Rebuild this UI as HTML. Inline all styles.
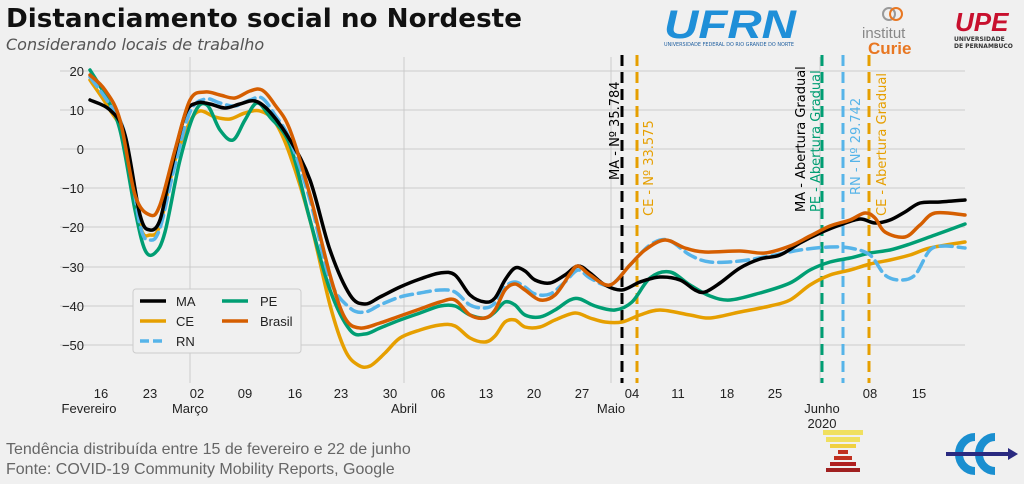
<!DOCTYPE html>
<html><head><meta charset="utf-8"><style>
body{margin:0;background:#f0f0f0;}
svg{display:block;font-family:"DejaVu Sans","Liberation Sans",sans-serif;}
</style></head><body>
<svg id="s" width="1024" height="484" viewBox="0 0 1024 484" xmlns="http://www.w3.org/2000/svg">
<rect width="1024" height="484" fill="#f0f0f0"/>
<text x="6" y="27" font-size="26" font-weight="bold" fill="#111" textLength="516" lengthAdjust="spacingAndGlyphs">Distanciamento social no Nordeste</text>
<text x="6" y="50" font-size="16" font-style="italic" fill="#555">Considerando locais de trabalho</text>
<text x="664" y="38" font-size="40" font-weight="bold" fill="#1f8fd8" font-family="Liberation Sans,sans-serif" font-style="italic" textLength="132" lengthAdjust="spacingAndGlyphs">UFRN</text>
<text x="664" y="46" font-size="5" fill="#1f5fa0" textLength="130" lengthAdjust="spacingAndGlyphs">UNIVERSIDADE FEDERAL DO RIO GRANDE DO NORTE</text>
<circle cx="889" cy="14" r="6" fill="none" stroke="#999" stroke-width="2"/><circle cx="896" cy="14" r="6" fill="none" stroke="#e87722" stroke-width="2"/>
<text x="862" y="38" font-size="15" fill="#888" font-family="Liberation Sans,sans-serif">institut</text>
<text x="868" y="54" font-size="17" font-weight="bold" fill="#e87722" font-family="Liberation Sans,sans-serif">Curie</text>
<text x="955" y="31" font-size="26" font-weight="bold" font-style="italic" fill="#c8102e" font-family="Liberation Sans,sans-serif">UPE</text>
<text x="954" y="41" font-size="6" font-weight="bold" fill="#333">UNIVERSIDADE</text>
<text x="954" y="48" font-size="6" font-weight="bold" fill="#333">DE PERNAMBUCO</text>
<g stroke="#cbcbcb" stroke-width="1">
<line x1="60" x2="965" y1="71" y2="71"/><line x1="60" x2="965" y1="110" y2="110"/><line x1="60" x2="965" y1="149" y2="149"/><line x1="60" x2="965" y1="188" y2="188"/><line x1="60" x2="965" y1="227" y2="227"/><line x1="60" x2="965" y1="267" y2="267"/><line x1="60" x2="965" y1="306" y2="306"/><line x1="60" x2="965" y1="345" y2="345"/>
<line x1="190" x2="190" y1="57" y2="383"/><line x1="404" x2="404" y1="57" y2="383"/><line x1="611" x2="611" y1="57" y2="383"/><line x1="820" x2="820" y1="57" y2="383"/>
</g>
<g font-size="13" fill="#222" text-anchor="end" font-family="Liberation Sans,sans-serif">
<text x="84" y="76">20</text><text x="84" y="115">10</text><text x="84" y="154">0</text><text x="84" y="193">−10</text><text x="84" y="232">−20</text><text x="84" y="272">−30</text><text x="84" y="311">−40</text><text x="84" y="350">−50</text>
</g>
<g font-size="13" fill="#222" text-anchor="middle" font-family="Liberation Sans,sans-serif">
<text x="101" y="398">16</text><text x="150" y="398">23</text><text x="197" y="398">02</text><text x="245" y="398">09</text><text x="295" y="398">16</text><text x="341" y="398">23</text><text x="390" y="398">30</text><text x="438" y="398">06</text><text x="486" y="398">13</text><text x="534" y="398">20</text><text x="582" y="398">27</text><text x="632" y="398">04</text><text x="678" y="398">11</text><text x="727" y="398">18</text><text x="775" y="398">25</text><text x="870" y="398">08</text><text x="919" y="398">15</text>
<text x="89" y="413">Fevereiro</text><text x="190" y="413">Março</text><text x="404" y="413">Abril</text><text x="611" y="413">Maio</text><text x="822" y="413">Junho</text><text x="822" y="428">2020</text>
</g>
<g stroke-width="3" stroke-dasharray="11,6" fill="none">
<line x1="622" x2="622" y1="55" y2="383" stroke="#000"/>
<line x1="637" x2="637" y1="55" y2="383" stroke="#E69F00"/>
<line x1="822" x2="822" y1="55" y2="383" stroke="#009E73"/>
<line x1="843" x2="843" y1="55" y2="383" stroke="#56B4E9"/>
<line x1="869" x2="869" y1="55" y2="383" stroke="#E69F00"/>
</g>
<g font-size="13" font-family="DejaVu Sans,sans-serif">
<text transform="translate(619,180) rotate(-90)" fill="#000">MA - Nº 35.784</text>
<text transform="translate(653,216) rotate(-90)" fill="#E69F00">CE - Nº 33.575</text>
<text transform="translate(805,212) rotate(-90)" fill="#000">MA - Abertura Gradual</text>
<text transform="translate(820,212) rotate(-90)" fill="#009E73">PE - Abertura Gradual</text>
<text transform="translate(860,195) rotate(-90)" fill="#56B4E9">RN - Nº 29.742</text>
<text transform="translate(886,216) rotate(-90)" fill="#E69F00">CE - Abertura Gradual</text>
</g>
<g fill="none" stroke-width="3.5" stroke-linejoin="round" stroke-linecap="round">
<polyline class="sm" stroke="#E69F00" points="90,80 110,110 125,140 140,225 150,235 160,225 175,160 190,122 200,111 215,117 230,119 245,113 260,111 275,122 290,155 310,220 330,305 345,350 358,365 370,366 385,353 400,338 420,330 440,325 455,326 470,338 485,342 495,336 505,322 515,320 525,327 540,327 555,320 575,313 590,318 605,322 622,322 640,315 660,310 690,315 710,318 740,312 770,306 790,300 810,285 830,275 850,270 870,264 890,260 910,255 930,248 965,242"/>
<polyline class="sm" stroke="#009E73" points="90,70 105,95 120,130 135,210 145,250 155,253 165,232 180,160 195,112 207,105 220,130 233,140 245,120 257,103 270,117 290,145 310,220 330,290 350,330 365,334 380,328 400,320 420,313 440,306 455,306 470,315 485,318 495,312 505,302 515,305 525,315 540,317 555,310 570,300 580,299 595,306 615,310 632,302 650,278 670,272 690,285 710,296 730,300 760,293 790,283 810,270 830,262 850,258 870,253 890,250 910,244 935,235 965,224"/>
<polyline class="sm" stroke="#56B4E9" stroke-dasharray="12,6" points="90,77 110,105 125,135 140,225 150,240 160,228 175,165 190,112 205,99 220,103 235,106 250,100 262,98 275,115 290,140 310,200 330,280 350,308 365,312 380,305 400,297 420,293 440,290 455,292 470,305 485,308 495,303 505,287 515,282 525,287 535,294 550,294 565,282 578,270 590,278 610,285 630,265 650,245 668,240 690,255 710,262 740,261 770,256 800,250 830,247 850,248 870,255 885,275 900,280 915,275 930,250 945,246 965,248"/>
<polyline class="sm" stroke="#000" points="90,100 110,110 125,135 140,215 150,230 160,220 170,175 185,115 197,103 210,104 225,108 240,104 255,101 270,112 290,140 310,180 330,250 350,295 365,304 380,297 400,287 420,279 440,273 455,275 470,295 485,302 495,298 505,280 515,268 525,271 535,280 550,283 565,275 578,266 590,273 605,285 622,290 640,282 660,277 680,280 695,290 705,292 720,283 740,268 760,259 780,255 800,243 820,233 840,225 860,219 875,223 890,220 905,212 920,203 940,202 965,200"/>
<polyline class="sm" stroke="#D55E00" points="90,75 105,90 120,120 135,195 150,215 160,205 175,150 190,100 205,92 220,95 235,98 250,91 262,90 275,105 290,130 310,195 330,275 345,318 360,328 380,323 400,316 420,309 440,302 455,300 470,315 485,318 495,310 505,290 515,284 525,290 540,300 555,295 570,274 578,266 590,275 610,285 630,265 645,250 665,240 685,248 705,252 740,251 765,253 790,246 810,236 830,226 850,220 865,213 875,218 885,232 905,237 920,225 935,213 965,215"/>
</g>
<rect x="133" y="289" width="168" height="64" fill="#f0f0f0" stroke="#ccc" stroke-width="1" rx="3"/>
<g stroke-width="3.5" fill="none">
<line x1="140" x2="166" y1="301" y2="301" stroke="#000"/>
<line x1="140" x2="166" y1="321" y2="321" stroke="#E69F00"/>
<line x1="140" x2="166" y1="341" y2="341" stroke="#56B4E9" stroke-dasharray="9,4"/>
<line x1="222" x2="248" y1="301" y2="301" stroke="#009E73"/>
<line x1="222" x2="248" y1="321" y2="321" stroke="#D55E00"/>
</g>
<g font-size="13" fill="#222" font-family="Liberation Sans,sans-serif">
<text x="176" y="306">MA</text><text x="176" y="326">CE</text><text x="176" y="346">RN</text><text x="260" y="306">PE</text><text x="260" y="326">Brasil</text>
</g>
<text x="6" y="454" font-size="16" fill="#666" font-family="Liberation Sans,sans-serif">Tendência distribuída entre 15 de fevereiro e 22 de junho</text>
<text x="6" y="474" font-size="16" fill="#666" font-family="Liberation Sans,sans-serif">Fonte: COVID-19 Community Mobility Reports, Google</text>
<g>
<rect x="823" y="430" width="40" height="5" fill="#f0e060"/><rect x="826" y="437" width="34" height="5" fill="#f0e060"/><rect x="830" y="444" width="26" height="4" fill="#f0d040"/>
<rect x="838" y="450" width="10" height="4" fill="#c03020"/><rect x="834" y="456" width="18" height="4" fill="#c03020"/><rect x="830" y="462" width="26" height="4" fill="#b02020"/><rect x="826" y="468" width="34" height="4" fill="#a02020"/>
</g>
<g fill="none" stroke="#1a8fd0" stroke-width="8">
<path d="M975,437 A16,17 0 1 0 975,471"/><path d="M995,437 A16,17 0 1 0 995,471"/>
</g>
<path d="M946,454 L1010,454" stroke="#2a2a80" stroke-width="4"/><path d="M1008,448 L1018,454 L1008,460Z" fill="#2a2a80"/>
</svg>
<script>
document.querySelectorAll('polyline.sm').forEach(function(pl){
  var p=pl.getAttribute('points').trim().split(/\s+/).map(function(s){return s.split(',').map(Number);});
  var d='M'+p[0][0]+','+p[0][1];
  for(var i=0;i<p.length-1;i++){
    var p0=p[i-1]||p[i],p1=p[i],p2=p[i+1],p3=p[i+2]||p2;
    var c1x=p1[0]+(p2[0]-p0[0])/6,c1y=p1[1]+(p2[1]-p0[1])/6;
    var c2x=p2[0]-(p3[0]-p1[0])/6,c2y=p2[1]-(p3[1]-p1[1])/6;
    d+=' C'+c1x.toFixed(1)+','+c1y.toFixed(1)+' '+c2x.toFixed(1)+','+c2y.toFixed(1)+' '+p2[0]+','+p2[1];
  }
  var path=document.createElementNS('http://www.w3.org/2000/svg','path');
  ['stroke','stroke-dasharray'].forEach(function(a){var v=pl.getAttribute(a);if(v)path.setAttribute(a,v);});
  path.setAttribute('d',d);
  pl.parentNode.replaceChild(path,pl);
});
</script>
</body></html>
